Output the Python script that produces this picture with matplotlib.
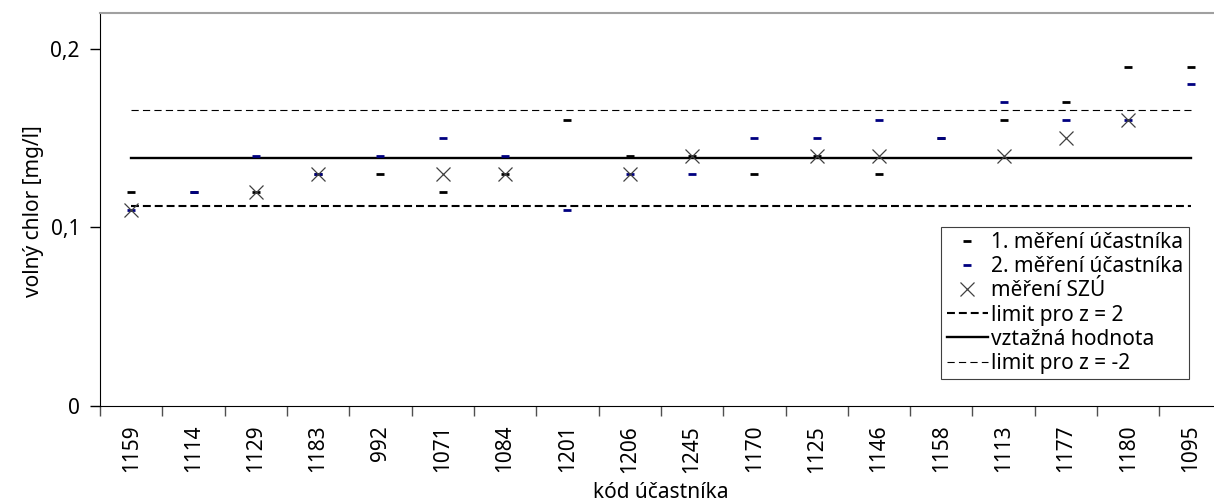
import numpy as np
import matplotlib.pyplot as plt

plt.rcParams['font.family'] = ['Noto Sans', 'DejaVu Sans']

# kódy účastníků a naměřené hodnoty volného chloru [mg/l]
ucastnici = ['1159', '1114', '1129', '1183', '992', '1071', '1084', '1201', '1206',
             '1245', '1170', '1125', '1146', '1158', '1113', '1177', '1180', '1095']
mereni_1 = [0.12, 0.12, 0.12, 0.13, 0.13, 0.12, 0.13, 0.16, 0.14,
            0.14, 0.13, 0.14, 0.13, 0.15, 0.16, 0.17, 0.19, 0.19]
mereni_2 = [0.11, 0.12, 0.14, 0.13, 0.14, 0.15, 0.14, 0.11, 0.13,
            0.13, 0.15, 0.15, 0.16, 0.15, 0.17, 0.16, 0.16, 0.18]
mereni_szu = [0.11, np.nan, 0.12, 0.13, np.nan, 0.13, 0.13, np.nan, 0.13,
              0.14, np.nan, 0.14, 0.14, np.nan, 0.14, 0.15, 0.16, np.nan]
vztazna = 0.1387
limit_z2 = 0.1117
limit_zm2 = 0.1657

n = len(ucastnici)
x = np.arange(n)
fs = 15

fig = plt.figure(figsize=(12.14, 5.04), dpi=100)
ax = fig.add_axes([0.0824, 0.1944, 0.924, 0.7798])

ax.plot(x, np.full(n, limit_z2), color='black', lw=1.5, ls=(0, (3.8, 1.9)),
        label='limit pro z = 2', zorder=1)
ax.plot(x, np.full(n, vztazna), color='black', lw=1.7,
        label='vztažná hodnota', zorder=1)
ax.plot(x, np.full(n, limit_zm2), color='black', lw=0.8, ls=(0, (6.5, 3.8)),
        label='limit pro z = -2', zorder=1)

ax.plot(x, mereni_1, ls='none', marker='_', ms=5.8, mew=2, color='black',
        label='1. měření účastníka', zorder=2)
ax.plot(x, mereni_2, ls='none', marker='_', ms=5.8, mew=2, color='#000080',
        label='2. měření účastníka', zorder=3)
ax.plot(x, mereni_szu, ls='none', marker='x', ms=9.5, mew=0.9, color='#404040',
        label='měření SZÚ', zorder=4)

ax.set_xlim(-0.5, n - 0.5)
ax.set_ylim(0, 0.22)

ax.set_xticks(np.arange(n + 1) - 0.5)
ax.set_xticklabels([])
ax.set_xticks(x, minor=True)
ax.set_xticklabels(ucastnici, minor=True, rotation=90)
ax.tick_params(axis='x', which='major', length=7, width=1, direction='out', color='#505050')
ax.tick_params(axis='x', which='minor', length=0, pad=13.5, labelsize=fs)

ax.set_yticks([0, 0.1, 0.2])
ax.set_yticklabels(['0', '0,1', '0,2'])
ax.tick_params(axis='y', length=7, width=1, direction='out', pad=7.5, labelsize=fs)

ax.spines['right'].set_visible(False)
ax.spines['top'].set_color('#a0a0a0')
ax.spines['top'].set_linewidth(1.5)

ax.set_ylabel('volný chlor [mg/l]', fontsize=fs)
ax.yaxis.set_label_coords(-0.050, 0.496)
ax.set_xlabel('kód účastníka', fontsize=fs)
ax.xaxis.set_label_coords(0.5, -0.193)

handles, labels = ax.get_legend_handles_labels()
order = [3, 4, 5, 0, 1, 2]
leg = ax.legend([handles[i] for i in order], [labels[i] for i in order],
                loc='upper right', bbox_to_anchor=(0.9706, 0.4555), borderaxespad=0,
                fontsize=fs, frameon=True, fancybox=False, edgecolor='#404040',
                framealpha=1, handlelength=2.0, handletextpad=0.15,
                labelspacing=0.15, borderpad=0.25, numpoints=1)
leg.get_frame().set_linewidth(0.8)

fig.savefig('out.png', dpi=100)
